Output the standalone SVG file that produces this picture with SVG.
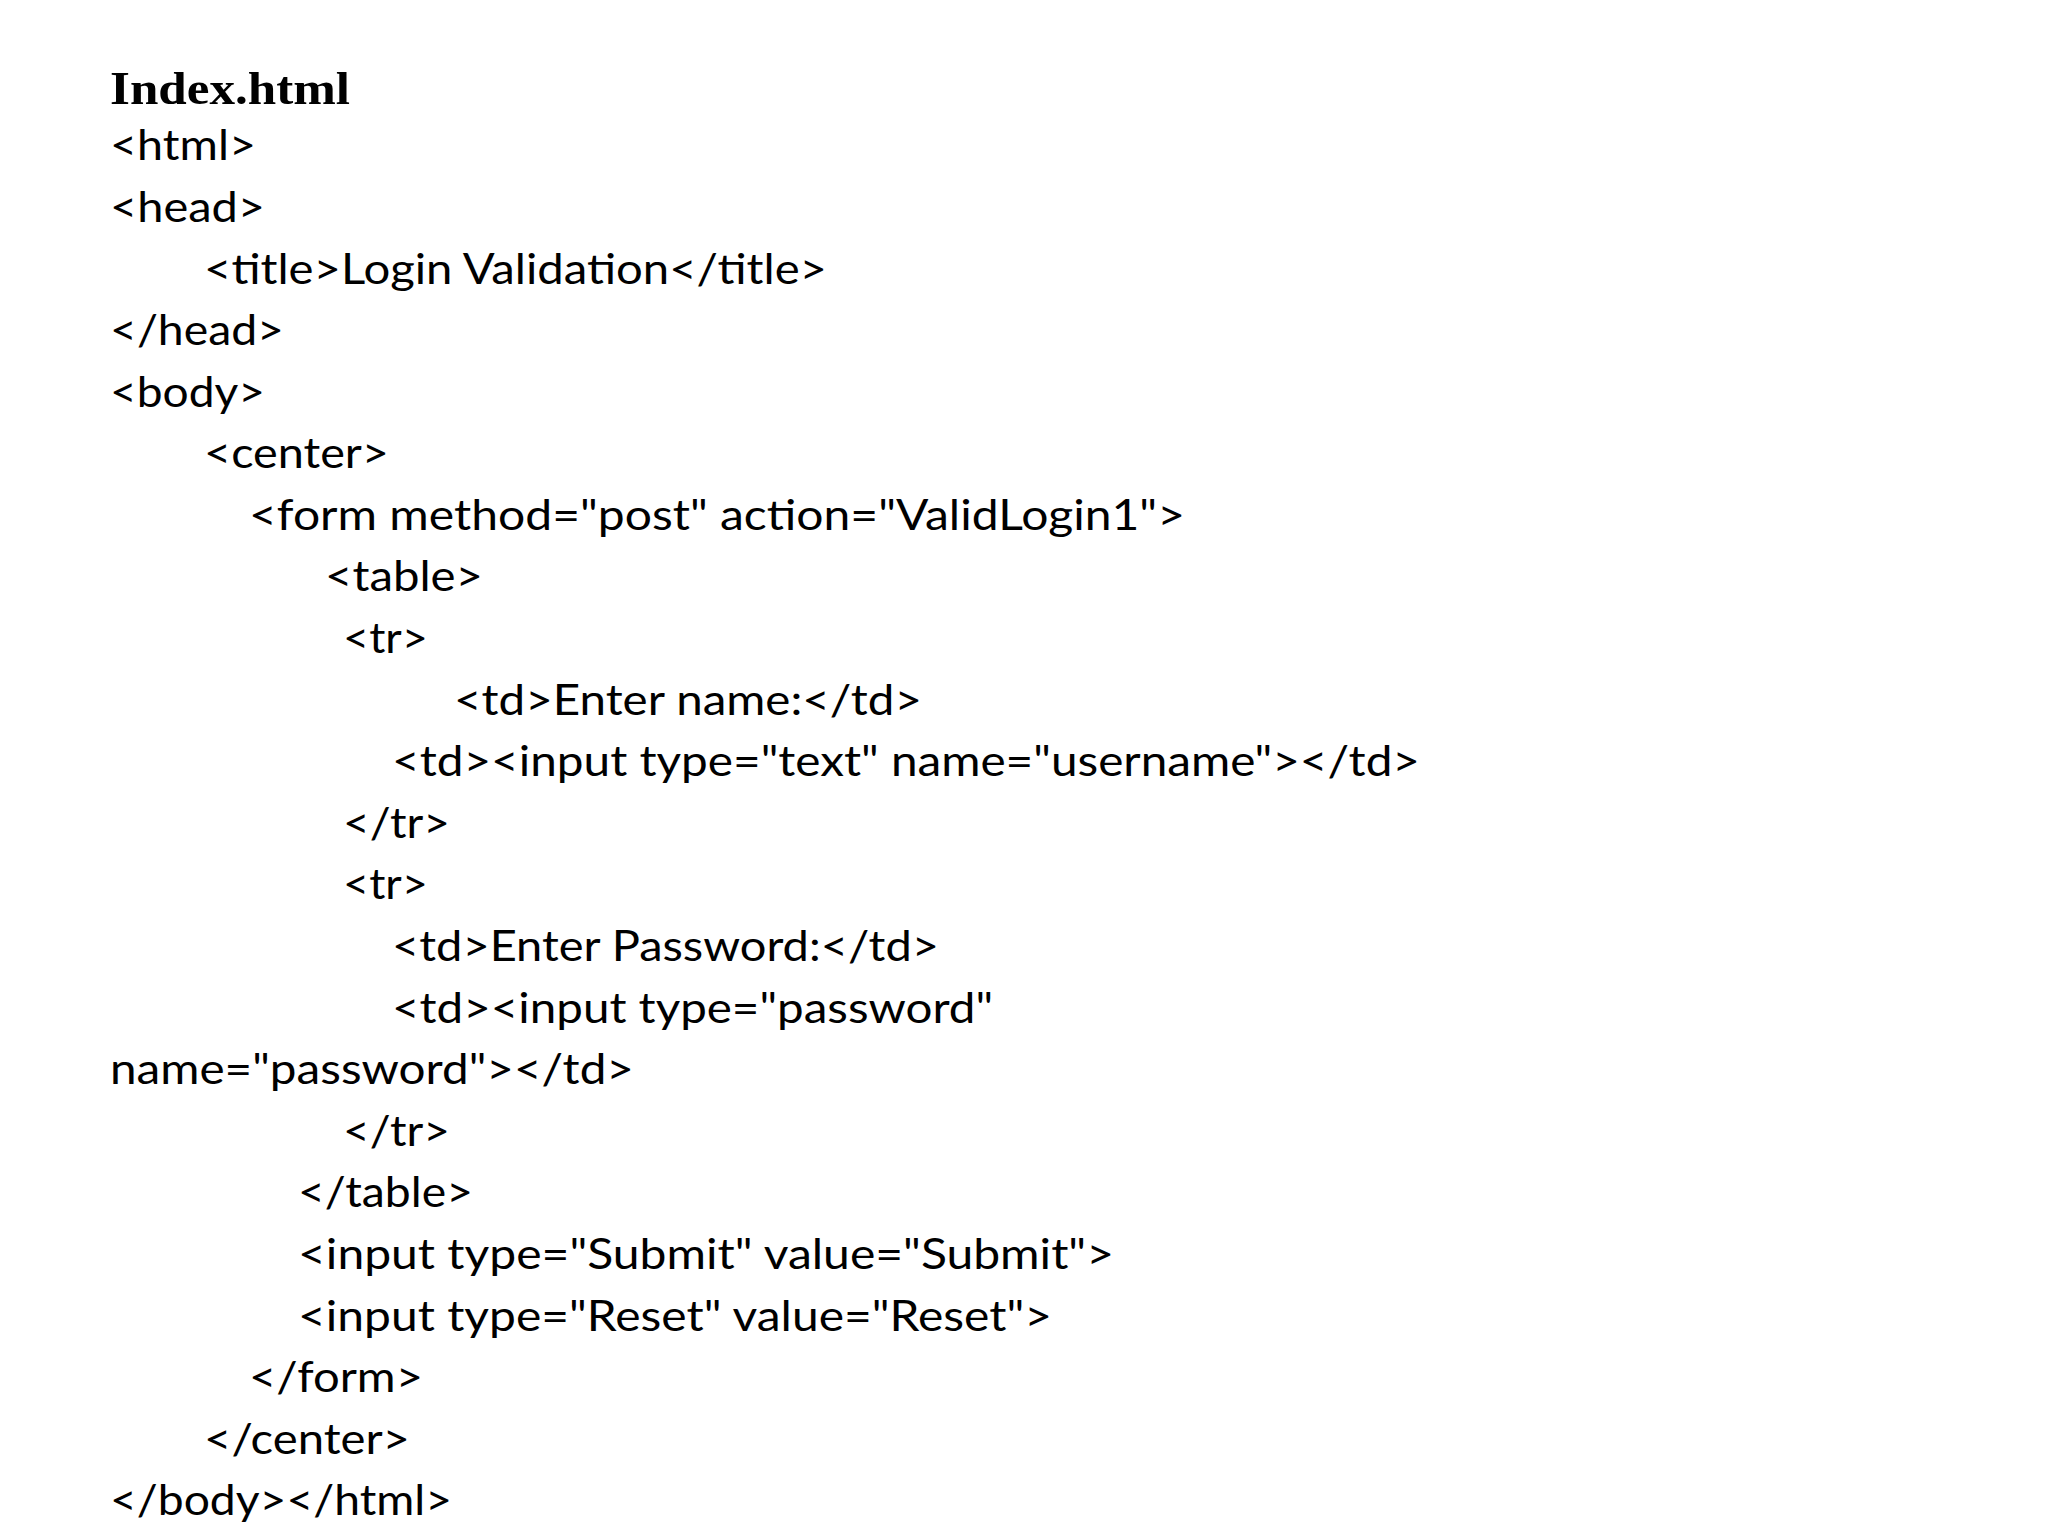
<svg xmlns="http://www.w3.org/2000/svg" width="2048" height="1536" viewBox="0 0 2048 1536">
<style>
.c{font-family:Lato,"Open Sans","Liberation Sans",sans-serif;font-size:43px;fill:#000}
.h{font-family:"Liberation Serif",serif;font-size:47px;font-weight:bold;fill:#000}
</style>
<rect width="2048" height="1536" fill="#fff"/>
<g id="code" lengthAdjust="spacingAndGlyphs">
<text class="h" x="110" y="104" textLength="240" lengthAdjust="spacingAndGlyphs">Index.html</text>
<text class="c" x="110" y="160" textLength="146" lengthAdjust="spacingAndGlyphs">&lt;html&gt;</text>
<text class="c" x="110" y="222" textLength="155" lengthAdjust="spacingAndGlyphs">&lt;head&gt;</text>
<text class="c" x="204" y="284" textLength="623" lengthAdjust="spacingAndGlyphs">&lt;title&gt;Login Validation&lt;/title&gt;</text>
<text class="c" x="110" y="345" textLength="174" lengthAdjust="spacingAndGlyphs">&lt;/head&gt;</text>
<text class="c" x="110" y="407" textLength="155" lengthAdjust="spacingAndGlyphs">&lt;body&gt;</text>
<text class="c" x="204" y="468" textLength="185" lengthAdjust="spacingAndGlyphs">&lt;center&gt;</text>
<text class="c" x="249" y="530" textLength="936" lengthAdjust="spacingAndGlyphs">&lt;form method="post" action="ValidLogin1"&gt;</text>
<text class="c" x="325" y="591" textLength="158" lengthAdjust="spacingAndGlyphs">&lt;table&gt;</text>
<text class="c" x="343" y="653" textLength="85" lengthAdjust="spacingAndGlyphs">&lt;tr&gt;</text>
<text class="c" x="454" y="715" textLength="468" lengthAdjust="spacingAndGlyphs">&lt;td&gt;Enter name:&lt;/td&gt;</text>
<text class="c" x="392" y="776" textLength="1028" lengthAdjust="spacingAndGlyphs">&lt;td&gt;&lt;input type="text" name="username"&gt;&lt;/td&gt;</text>
<text class="c" x="343" y="838" textLength="107" lengthAdjust="spacingAndGlyphs">&lt;/tr&gt;</text>
<text class="c" x="343" y="899" textLength="85" lengthAdjust="spacingAndGlyphs">&lt;tr&gt;</text>
<text class="c" x="392" y="961" textLength="547" lengthAdjust="spacingAndGlyphs">&lt;td&gt;Enter Password:&lt;/td&gt;</text>
<text class="c" x="392" y="1023" textLength="601" lengthAdjust="spacingAndGlyphs">&lt;td&gt;&lt;input type="password"</text>
<text class="c" x="110" y="1084" textLength="524" lengthAdjust="spacingAndGlyphs">name="password"&gt;&lt;/td&gt;</text>
<text class="c" x="343" y="1146" textLength="107" lengthAdjust="spacingAndGlyphs">&lt;/tr&gt;</text>
<text class="c" x="298" y="1207" textLength="175" lengthAdjust="spacingAndGlyphs">&lt;/table&gt;</text>
<text class="c" x="298" y="1269" textLength="816" lengthAdjust="spacingAndGlyphs">&lt;input type="Submit" value="Submit"&gt;</text>
<text class="c" x="298" y="1331" textLength="754" lengthAdjust="spacingAndGlyphs">&lt;input type="Reset" value="Reset"&gt;</text>
<text class="c" x="249" y="1392" textLength="174" lengthAdjust="spacingAndGlyphs">&lt;/form&gt;</text>
<text class="c" x="204" y="1454" textLength="206" lengthAdjust="spacingAndGlyphs">&lt;/center&gt;</text>
<text class="c" x="110" y="1515" textLength="342" lengthAdjust="spacingAndGlyphs">&lt;/body&gt;&lt;/html&gt;</text>
</g>
</svg>
